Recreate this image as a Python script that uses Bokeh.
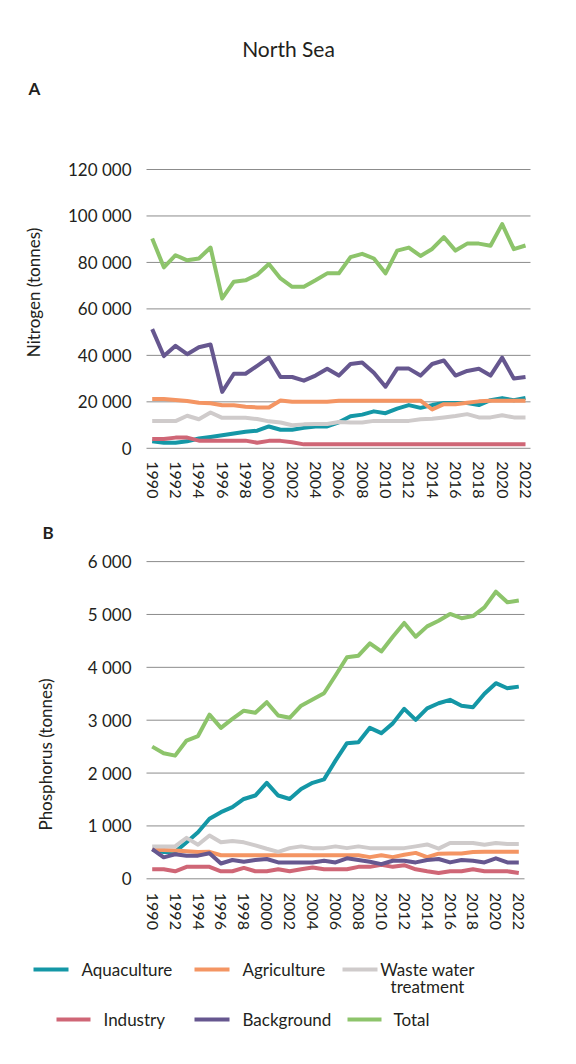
import math
from bokeh.plotting import figure
from bokeh.models import Range1d, FixedTicker, LinearAxis
from bokeh.embed import file_html
from bokeh.resources import INLINE
from bokeh.core.properties import value

# ---------------- data ----------------
years = list(range(1990, 2023))
series_names = ["Aquaculture", "Agriculture", "Waste water treatment",
                "Industry", "Background", "Total"]

# Nitrogen (tonnes)
n_aquaculture = [3000, 2400, 2400, 3000, 4200, 4900, 5600, 6400, 7100, 7600,
                 9400, 8000, 8000, 8800, 9400, 9400, 11200, 13800, 14500, 15900,
                 15100, 17100, 18600, 17400, 18600, 19500, 19500, 19500, 18600, 20700,
                 21600, 20700, 21700]
n_agriculture = [21200, 21200, 20800, 20400, 19600, 19400, 18500, 18500, 17900, 17600,
                 17600, 20600, 20000, 20000, 20000, 20000, 20500, 20500, 20500, 20500,
                 20500, 20500, 20500, 20500, 16700, 19000, 19000, 19600, 20200, 20500,
                 20500, 20500, 20500]
n_wastewater = [11700, 11700, 11700, 14000, 12500, 15400, 13100, 13100, 13100, 12600,
                11600, 11100, 9900, 10300, 10500, 10500, 11300, 11100, 11100, 11800,
                11800, 11800, 11800, 12500, 12700, 13300, 13900, 14700, 13300, 13300,
                14200, 13300, 13300]
n_industry = [4000, 4000, 4600, 4600, 3300, 3300, 3300, 3300, 3300, 2400,
              3200, 3200, 2600, 1700, 1700, 1700, 1700, 1700, 1700, 1700,
              1700, 1700, 1700, 1700, 1700, 1700, 1700, 1700, 1700, 1700,
              1700, 1700, 1700]
n_background = [51300, 39700, 44100, 40500, 43500, 44700, 24300, 32100, 32100, 35500,
                39000, 30700, 30700, 29100, 31300, 34200, 31300, 36300, 36900, 32500,
                26500, 34300, 34300, 31300, 36300, 37800, 31300, 33300, 34200, 31300,
                39000, 30000, 30700]
n_total = [90300, 77900, 83100, 80900, 81700, 86400, 64500, 71700, 72300, 74700,
           79300, 73100, 69500, 69500, 72300, 75300, 75300, 82300, 83700, 81700,
           75300, 85100, 86400, 82800, 85800, 90900, 85100, 88100, 88100, 87200,
           96500, 85700, 87300]

# Phosphorus (tonnes)
p_aquaculture = [550, 505, 505, 693, 880, 1135, 1260, 1355, 1510, 1575,
                 1815, 1575, 1510, 1700, 1815, 1880, 2235, 2565, 2585, 2855,
                 2755, 2940, 3215, 3005, 3225, 3320, 3385, 3275, 3245, 3500,
                 3700, 3605, 3635]
p_agriculture = [550, 545, 535, 520, 505, 510, 445, 445, 445, 445,
                 445, 445, 445, 445, 445, 445, 445, 445, 445, 410,
                 445, 410, 455, 490, 410, 475, 480, 480, 505, 510,
                 510, 510, 510]
p_wastewater = [613, 613, 613, 774, 645, 820, 690, 716, 690, 632,
                568, 510, 580, 613, 580, 580, 613, 580, 613, 580,
                580, 580, 580, 613, 650, 570, 677, 677, 677, 645,
                677, 658, 658]
p_industry = [180, 180, 142, 226, 226, 226, 142, 142, 206, 142,
              142, 180, 142, 180, 213, 180, 180, 180, 226, 226,
              265, 226, 258, 180, 142, 110, 142, 142, 180, 142,
              142, 142, 110]
p_background = [561, 406, 464, 438, 438, 484, 290, 355, 322, 355,
                374, 310, 310, 310, 310, 342, 310, 387, 355, 322,
                277, 342, 342, 310, 355, 374, 310, 355, 342, 310,
                387, 310, 310]
p_total = [2500, 2375, 2330, 2615, 2700, 3105, 2855, 3025, 3180, 3140,
           3340, 3090, 3045, 3275, 3390, 3510, 3845, 4190, 4220, 4455,
           4300, 4580, 4840, 4580, 4775, 4880, 5010, 4930, 4970, 5135,
           5430, 5230, 5265]

year_ticks = list(range(1990, 2023, 2))
n_ticks = [0, 20000, 40000, 60000, 80000, 100000, 120000]
n_tick_labels = ["0", "20 000", "40 000", "60 000", "80 000", "100 000", "120 000"]
p_ticks = [0, 1000, 2000, 3000, 4000, 5000, 6000]
p_tick_labels = ["0", "1 000", "2 000", "3 000", "4 000", "5 000", "6 000"]

# ---------------- style / layout (page pixels) ----------------
W, H = 560, 1048
colors = ["#1497A6", "#F49563", "#CFCBCB", "#CF6676", "#66578F", "#8DC46B"]
FONT = "Lato"
TXT = "#231F20"
GRID = "#8C8C8C"
LW = 4

# panel A: pixel anchors
A_x0_px, A_x1_px = 151.7, 525.0          # 1990, 2022
A_y0_px, A_y1_px = 447.8, 169.0          # 0, 120000
A_grid_px = (146, 530)
# panel B
B_x0_px, B_x1_px = 151.7, 518.3
B_y0_px, B_y1_px = 878.3, 561.1          # 0, 6000
B_grid_px = (146, 524)


def span_range(p1, v1, p2, v2, lo, hi):
    k = (v2 - v1) / (p2 - p1)
    return Range1d(start=v1 + (lo - p1) * k, end=v1 + (hi - p1) * k)


p = figure(width=W, height=H, x_range=Range1d(0, W), y_range=Range1d(H, 0),
           x_axis_type=None, y_axis_type=None,
           output_backend="svg", toolbar_location=None,
           min_border_left=0, min_border_right=0, min_border_top=0, min_border_bottom=0)
p.outline_line_color = None
p.background_fill_color = "white"
p.border_fill_color = "white"
p.grid.visible = False

p.extra_x_ranges = {
    "xA": span_range(A_x0_px, 1990, A_x1_px, 2022, 0, W),
    "xB": span_range(B_x0_px, 1990, B_x1_px, 2022, 0, W),
}
p.extra_y_ranges = {
    "yA": span_range(A_y0_px, 0, A_y1_px, 120000, H, 0),
    "yB": span_range(B_y0_px, 0, B_y1_px, 6000, H, 0),
}


def px_to_x(rng_name, px_val):
    r = p.extra_x_ranges[rng_name]
    return r.start + (r.end - r.start) * px_val / W


def add_panel(xr, yr, ticks, tick_labels, grid_px, series, ystand, xstand):
    gx0 = px_to_x(xr, grid_px[0])
    gx1 = px_to_x(xr, grid_px[1])
    p.segment(x0=[gx0] * len(ticks), x1=[gx1] * len(ticks), y0=ticks, y1=ticks,
              line_color=GRID, line_width=1, x_range_name=xr, y_range_name=yr)

    yax = LinearAxis(x_range_name=xr, y_range_name=yr, fixed_location=gx0,
                     ticker=FixedTicker(ticks=ticks),
                     major_label_overrides={t: l for t, l in zip(ticks, tick_labels)})
    xax = LinearAxis(x_range_name=xr, y_range_name=yr, fixed_location=0,
                     ticker=FixedTicker(ticks=year_ticks))
    for ax in (yax, xax):
        ax.axis_line_color = None
        ax.major_tick_line_color = None
        ax.minor_tick_line_color = None
        ax.major_tick_out = 0
        ax.major_tick_in = 0
        ax.minor_tick_out = 0
        ax.minor_tick_in = 0
        ax.major_label_text_font = FONT
        ax.major_label_text_color = TXT
    yax.major_label_text_font_size = "17px"
    yax.major_label_standoff = ystand
    xax.major_label_text_font_size = "16px"
    xax.major_label_orientation = "vertical"
    xax.major_label_standoff = xstand
    p.add_layout(yax, "left")
    p.add_layout(xax, "below")

    for vals, col in zip(series, colors):
        p.line(years, vals, line_color=col, line_width=LW, line_join="round",
               x_range_name=xr, y_range_name=yr)


add_panel("xA", "yA", n_ticks, n_tick_labels, A_grid_px,
          [n_aquaculture, n_agriculture, n_wastewater, n_industry, n_background, n_total],
          15, 13)
add_panel("xB", "yB", p_ticks, p_tick_labels, B_grid_px,
          [p_aquaculture, p_agriculture, p_wastewater, p_industry, p_background, p_total],
          15, 14)


def add_text(x, y, texts, size, align="left", bold=False, angle=0.0):
    p.text(x=x, y=y, text=texts, text_font=value(FONT), text_font_size=size,
           text_color=TXT, text_align=align, text_baseline="middle",
           text_font_style="bold" if bold else "normal", angle=angle)


add_text([288], [48], ["North Sea"], "21px", align="center")
add_text([28, 42], [88, 532], ["A", "B"], "17px", bold=True)
add_text([33, 45], [292, 754], ["Nitrogen (tonnes)", "Phosphorus (tonnes)"], "17px",
         align="center", angle=math.pi / 2)

# ---------------- legend ----------------
leg_line_x0 = [33, 194, 342, 56, 194, 347]
leg_line_x1 = [68, 229, 377, 90, 229, 381]
leg_y = [969, 969, 969, 1019, 1019, 1019]
leg_text_x = [81, 242, 427, 103, 242, 393]
p.segment(x0=leg_line_x0, x1=leg_line_x1, y0=leg_y, y1=leg_y,
          line_color=colors, line_width=4)
single = [0, 1, 3, 4, 5]
add_text([leg_text_x[i] for i in single], [leg_y[i] for i in single],
         [series_names[i] for i in single], "17px")
add_text([leg_text_x[2], leg_text_x[2]], [leg_y[2], leg_y[2] + 17],
         ["Waste water", "treatment"], "17px", align="center")

open("out.html", "w").write(file_html(p, INLINE))
